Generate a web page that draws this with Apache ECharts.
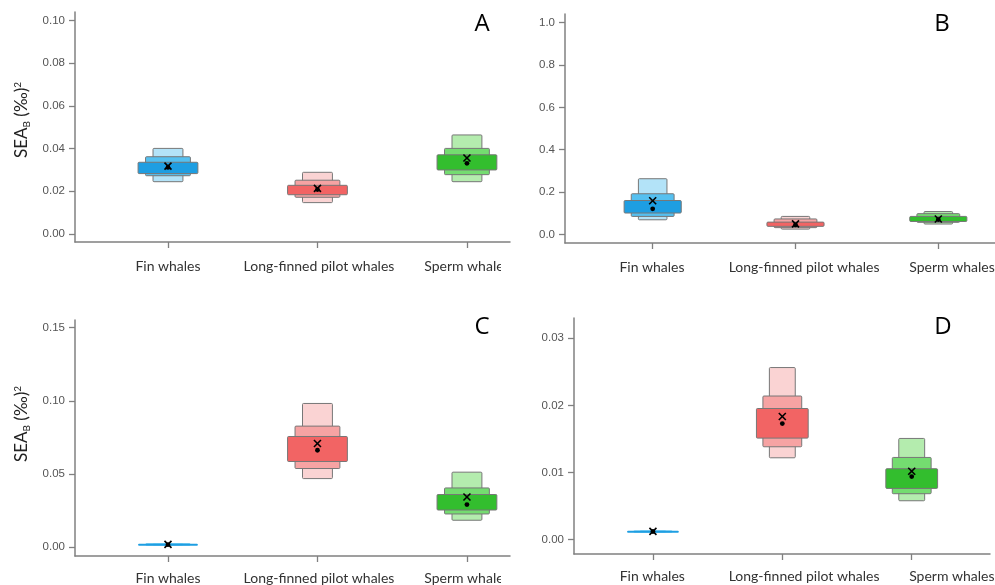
<!DOCTYPE html>
<html><head><meta charset="utf-8">
<script src="https://cdn.jsdelivr.net/npm/echarts@6/dist/echarts.min.js"></script>
<style>html,body{margin:0;padding:0;background:#fff}#c{width:995px;height:585px}</style>
</head><body><div id="c"></div>
<script>
// ---- data ----
const categories = ['Fin whales', 'Long-finned pilot whales', 'Sperm whales'];

const A_ci95 = [[0.0245, 0.0401], [0.0147, 0.0289], [0.0245, 0.0464]];
const A_ci75 = [[0.0273, 0.0362], [0.0172, 0.0252], [0.0278, 0.0401]];
const A_ci50 = [[0.0283, 0.0336], [0.0184, 0.0228], [0.0300, 0.0371]];
const A_mean = [0.0318, 0.0214, 0.0356];
const A_mode = [0.0312, 0.0208, 0.0331];
const A_ticks = [0, 0.02, 0.04, 0.06, 0.08, 0.10];

const B_ci95 = [[0.069, 0.263], [0.025, 0.085], [0.049, 0.108]];
const B_ci75 = [[0.085, 0.192], [0.032, 0.073], [0.057, 0.098]];
const B_ci50 = [[0.101, 0.160], [0.038, 0.058], [0.061, 0.085]];
const B_mean = [0.159, 0.050, 0.073];
const B_mode = [0.121, 0.045, 0.070];
const B_ticks = [0, 0.2, 0.4, 0.6, 0.8, 1.0];

const C_ci95 = [[0.0008, 0.0028], [0.0468, 0.0982], [0.0183, 0.0512]];
const C_ci75 = [[0.0011, 0.0025], [0.0537, 0.0827], [0.0226, 0.0404]];
const C_ci50 = [[0.0013, 0.0022], [0.0585, 0.0756], [0.0253, 0.0359]];
const C_mean = [0.0018, 0.0708, 0.0342];
const C_mode = [0.0016, 0.0662, 0.0290];
const C_ticks = [0, 0.05, 0.10, 0.15];

const D_ci95 = [[0.00105, 0.00145], [0.0122, 0.02564], [0.0058, 0.01508]];
const D_ci75 = [[0.00112, 0.00138], [0.01384, 0.0214], [0.00685, 0.01225]];
const D_ci50 = [[0.00117, 0.00132], [0.01513, 0.01954], [0.00764, 0.01057]];
const D_mean = [0.00124, 0.01835, 0.0102];
const D_mode = [0.00122, 0.0173, 0.0094];
const D_ticks = [0, 0.01, 0.02, 0.03];

// ---- styles ----
const palette = [
  ['#B3E3F8', '#55C0F0', '#1E9EE2'],
  ['#FAD3D3', '#F6A3A3', '#F26464'],
  ['#B4ECAE', '#74DC70', '#33BE2E']
];
const widthFrac = [0.20, 0.30, 0.40];

// label anchor positions on each x axis (the right-hand panels have labels offset from ticks)
const panels = [
  { ci: [A_ci95, A_ci75, A_ci50], mean: A_mean, mode: A_mode, ticks: A_ticks, dec: 2,
    grid: { left: 75, top: 12, width: 435, height: 230 }, x: [0.378, 3.288], y: [-0.00375, 0.104],
    lblPos: [1, 2.01, 3], label: 'A', lx: 482, ly: 24, lblMargin: 17 },
  { ci: [B_ci95, B_ci75, B_ci50], mean: B_mean, mode: B_mode, ticks: B_ticks, dec: 1,
    grid: { left: 565, top: 14, width: 430, height: 229 }, x: [0.386, 3.397], y: [-0.0406, 1.041],
    lblPos: [0.995, 2.06, 3.096], label: 'B', lx: 942, ly: 24, lblMargin: 17 },
  { ci: [C_ci95, C_ci75, C_ci50], mean: C_mean, mode: C_mode, ticks: C_ticks, dec: 2,
    grid: { left: 75, top: 320, width: 435, height: 236 }, x: [0.378, 3.288], y: [-0.00616, 0.1553],
    lblPos: [1, 2.01, 3], label: 'C', lx: 482, ly: 327, lblMargin: 15 },
  { ci: [D_ci95, D_ci75, D_ci50], mean: D_mean, mode: D_mode, ticks: D_ticks, dec: 2,
    grid: { left: 574, top: 318, width: 416, height: 236 }, x: [0.39, 3.605], y: [-0.00213, 0.03302],
    lblPos: [0.995, 2.168, 3.31], label: 'D', lx: 943, ly: 327, lblMargin: 15 }
];

const grids = [], xAxes = [], yAxes = [], series = [], graphics = [];

panels.forEach((p, pi) => {
  grids.push(Object.assign({ outerBoundsMode: 'none', containLabel: false }, p.grid));
  xAxes.push({
    type: 'value', gridIndex: pi, min: p.x[0], max: p.x[1],
    axisLine: { show: true, onZero: false, lineStyle: { color: '#808080', width: 1.5 } },
    axisTick: { show: true, customValues: [1, 2, 3], length: 6, lineStyle: { color: '#808080', width: 1.3 } },
    axisLabel: { show: true, customValues: p.lblPos, margin: p.lblMargin, hideOverlap: false,
      formatter: v => {
        let best = 0, bd = 1e9;
        p.lblPos.forEach((q, i) => { const d = Math.abs(q - v); if (d < bd) { bd = d; best = i; } });
        return categories[best];
      },
      fontFamily: 'Lato', fontSize: 14, color: '#333' },
    splitLine: { show: false }
  });
  yAxes.push({
    type: 'value', gridIndex: pi, min: p.y[0], max: p.y[1],
    axisLine: { show: true, onZero: false, lineStyle: { color: '#808080', width: 1.5 } },
    axisTick: { show: true, customValues: p.ticks, length: 6, lineStyle: { color: '#808080', width: 1.3 } },
    axisLabel: { show: true, customValues: p.ticks, margin: 10, formatter: v => v.toFixed(p.dec),
      fontFamily: 'Liberation Sans', fontSize: 11.5, color: '#555' },
    splitLine: { show: false }
  });
  const boxData = [];
  for (let lvl = 0; lvl < 3; lvl++) {
    for (let c = 0; c < 3; c++) {
      boxData.push([c + 1, p.ci[lvl][c][0], p.ci[lvl][c][1], lvl, c]);
    }
  }
  series.push({
    type: 'custom', xAxisIndex: pi, yAxisIndex: pi, data: boxData, silent: true,
    renderItem: (params, api) => {
      const cx = api.value(0), lo = api.value(1), hi = api.value(2), lvl = api.value(3), c = api.value(4);
      const band = api.size([1, 0])[0];
      const w = band * widthFrac[lvl];
      const pLo = api.coord([cx, lo]);
      const pHi = api.coord([cx, hi]);
      let h = pLo[1] - pHi[1];
      const thin = h < 3;
      if (h < 2) h = 2;
      return {
        type: 'rect',
        shape: { x: pLo[0] - w / 2, y: pHi[1], width: w, height: h, r: 1 },
        style: { fill: palette[c][lvl], stroke: thin ? null : '#777', lineWidth: 1 }
      };
    }
  });
  const markData = p.mean.map((m, i) => [i + 1, m, p.mode[i]]);
  series.push({
    type: 'custom', xAxisIndex: pi, yAxisIndex: pi, data: markData, silent: true, z: 5,
    renderItem: (params, api) => {
      const cx = api.value(0);
      const pm = api.coord([cx, api.value(1)]);
      const pd = api.coord([cx, api.value(2)]);
      const s = 3.5;
      return {
        type: 'group',
        children: [
          { type: 'circle', shape: { cx: pd[0], cy: pd[1], r: 2.4 }, style: { fill: '#000' } },
          { type: 'line', shape: { x1: pm[0] - s, y1: pm[1] - s, x2: pm[0] + s, y2: pm[1] + s }, style: { stroke: '#000', lineWidth: 1.6 } },
          { type: 'line', shape: { x1: pm[0] - s, y1: pm[1] + s, x2: pm[0] + s, y2: pm[1] - s }, style: { stroke: '#000', lineWidth: 1.6 } }
        ]
      };
    }
  });
  graphics.push({
    type: 'text', x: p.lx, y: p.ly,
    style: { text: p.label, fontFamily: 'Open Sans', fontSize: 24, fill: '#000', align: 'center', verticalAlign: 'middle' }
  });
});

// left panels are cropped at their right edge in the source figure
graphics.push({ type: 'rect', z: 100, shape: { x: 501, y: 252, width: 20, height: 30 }, style: { fill: '#fff' } });
graphics.push({ type: 'rect', z: 100, shape: { x: 501, y: 565, width: 20, height: 20 }, style: { fill: '#fff' } });

const titleRich = {
  a: { fontFamily: 'Lato', fontSize: 17, fill: '#222', color: '#222' },
  s: { fontFamily: 'Lato', fontSize: 10, fill: '#222', color: '#222', padding: [9, 0, 0, 0] },
  p: { fontFamily: 'Lato', fontSize: 10, fill: '#222', color: '#222', padding: [0, 0, 9, 0] }
};
[[22, 120], [22, 424]].forEach(([x, y]) => {
  graphics.push({
    type: 'text', x: x, y: y, rotation: Math.PI / 2,
    style: { text: '{a|SEA}{s|B}{a| (‰)}{p|2}', rich: titleRich, align: 'center', verticalAlign: 'middle' }
  });
});

const chart = echarts.init(document.getElementById('c'), null, { renderer: 'canvas' });
chart.setOption({
  backgroundColor: '#fff',
  animation: false,
  grid: grids,
  xAxis: xAxes,
  yAxis: yAxes,
  series: series,
  graphic: graphics
});
</script>
</body></html>
